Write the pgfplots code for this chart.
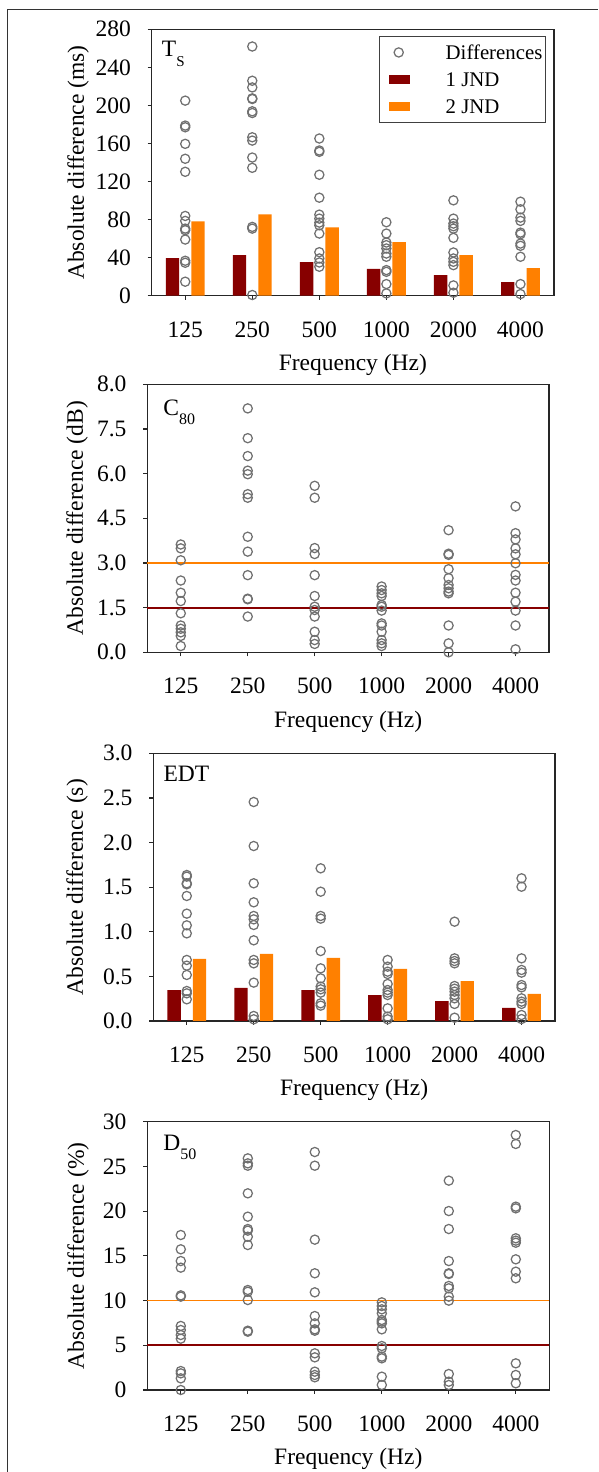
\documentclass[border=0pt]{standalone}
\usepackage{fontspec}
\setmainfont{Liberation Serif}
\usepackage{pgfplots}
\pgfplotsset{compat=1.18}
\definecolor{jndone}{RGB}{135,0,0}
\definecolor{jndtwo}{RGB}{255,128,0}
\definecolor{ptgray}{RGB}{112,112,112}
\pgfplotsset{
  panel/.style={
    scale only axis, anchor=south west,
    xmin=-0.5, xmax=5.5,
    xtick={0,1,2,3,4,5},
    xticklabels={125,250,500,1000,2000,4000},
    tick align=outside, xtick pos=bottom, ytick pos=left,
    major tick length=4pt,
    axis line style={line width=1.2pt, black!85},
    every tick/.style={line width=1.2pt, black!85},
    clip=false,
    xlabel={Frequency (Hz)},
    xlabel style={at={(axis description cs:0.5,0)}, anchor=base, yshift=-75pt},
    xticklabel style={anchor=base, yshift=-37.6pt},
    yticklabel style={anchor=east, inner sep=0pt, xshift=-16.7pt},
  },
  pts/.style={only marks, mark=o, mark size=4.6pt, ptgray, mark options={line width=1.25pt}},
}
\begin{document}
\begin{tikzpicture}[font=\fontsize{23.5}{28}\selectfont]
\useasboundingbox (0pt,0pt) rectangle (598pt,1472pt);
\draw[line width=1pt, black!80] (7pt,0pt) -- (7pt,1462.5pt) -- (598pt,1462.5pt);

% ---------------- Panel 1: Ts
\begin{axis}[panel, at={(151.7pt,1176.3pt)}, width=402.3pt, height=266.4pt,
  ymin=0, ymax=280, ytick={0,40,...,280},
  yticklabels={0,40,80,120,160,200,240,280},
  ylabel={Absolute difference (ms)},
  ylabel style={at={(axis description cs:-0.1683,0.5)}, anchor=base},
  legend style={at={(0.980,0.975)}, anchor=north east, draw=black!75, line width=1.2pt,
    fill=white, inner xsep=3pt, inner ysep=9pt, row sep=13.2pt,
    font=\fontsize{20.8}{25}\selectfont,
    nodes={inner sep=0pt, text height=13.8pt, text depth=0pt}, cells={anchor=west}},
]
\addlegendimage{legend image code/.code={\path[draw=none,fill=none] (0pt,-6.9pt) rectangle (63pt,6.9pt); \draw[ptgray, fill=none, line width=1.25pt] (16pt,0pt) circle (4.6pt);}}
\addlegendentry{Differences}
\addlegendimage{legend image code/.code={\path[draw=none,fill=none] (0pt,-6.9pt) rectangle (63pt,6.9pt); \fill[jndone, draw=none] (6pt,-4.7pt) rectangle (27pt,4.7pt);}}
\addlegendentry{1 JND}
\addlegendimage{legend image code/.code={\path[draw=none,fill=none] (0pt,-6.9pt) rectangle (63pt,6.9pt); \fill[jndtwo, draw=none] (6pt,-4.7pt) rectangle (27pt,4.7pt);}}
\addlegendentry{2 JND}
\addplot[ybar, bar width=0.2, fill=jndone, draw=none, forget plot] table[row sep=\\] {
x y \\ -0.19 39.5 \\ 0.81 42.6 \\ 1.81 35.3 \\ 2.81 28.3 \\ 3.81 21.6 \\ 4.81 14.3 \\
};
\addplot[ybar, bar width=0.2, fill=jndtwo, draw=none, forget plot] table[row sep=\\] {
x y \\ 0.19 78.2 \\ 1.19 85.5 \\ 2.19 71.9 \\ 3.19 56.2 \\ 4.19 42.6 \\ 5.19 29 \\
};
\addplot[pts, forget plot] table[row sep=\\] {
x y \\
0 205 \\ 0 178.8 \\ 0 177 \\ 0 159.6 \\ 0 143.9 \\ 0 130.2 \\ 0 83.8 \\ 0 78.6 \\ 0 70.5 \\ 0 68.8 \\ 0 59 \\ 0 36.7 \\ 0 34.6 \\ 0 14.7 \\
1 261.9 \\ 1 225.9 \\ 1 218.9 \\ 1 207.4 \\ 1 206.7 \\ 1 193.8 \\ 1 192 \\ 1 166.5 \\ 1 163 \\ 1 145.2 \\ 1 134.4 \\ 1 72.3 \\ 1 70.5 \\ 1 0.7 \\
2 165.2 \\ 2 152.6 \\ 2 151.2 \\ 2 127.1 \\ 2 103 \\ 2 85.2 \\ 2 81 \\ 2 76.8 \\ 2 74 \\ 2 65.3 \\ 2 45.7 \\ 2 39.1 \\ 2 34.9 \\ 2 30.4 \\
3 77.2 \\ 3 65.3 \\ 3 55.9 \\ 3 53.1 \\ 3 49.6 \\ 3 44.3 \\ 3 40.9 \\ 3 26.9 \\ 3 25.1 \\ 3 12.2 \\ 3 2.4 \\
4 100.2 \\ 4 81 \\ 4 75.8 \\ 4 73 \\ 4 70.5 \\ 4 60.8 \\ 4 45.4 \\ 4 39.1 \\ 4 35.6 \\ 4 32.1 \\ 4 10.8 \\ 4 3.1 \\
5 98.8 \\ 5 90.8 \\ 5 82.1 \\ 5 78.6 \\ 5 66.3 \\ 5 64.6 \\ 5 54.8 \\ 5 52.4 \\ 5 40.9 \\ 5 12.2 \\ 5 1.7 \\
};
\node[anchor=base west, inner sep=0pt] at (rel axis cs:0.0249,0.897) {T\raisebox{-10pt}{\fontsize{15}{15}\selectfont S}};
\end{axis}

% ---------------- Panel 2: C80
\begin{axis}[panel, at={(147.3pt,819.7pt)}, width=401.7pt, height=268pt,
  ymin=0, ymax=9, ytick={0,1.5,3,4.5,6,7.5,9},
  yticklabels={0.0,1.5,3.0,4.5,6.0,7.5,8.0},
  ylabel={Absolute difference (dB)},
  ylabel style={at={(axis description cs:-0.1601,0.5)}, anchor=base},
]
\addplot[color=jndtwo, line width=1.8pt] coordinates {(-0.5,3) (5.5,3)};
\addplot[color=jndone, line width=1.8pt] coordinates {(-0.5,1.5) (5.5,1.5)};
\addplot[pts] table[row sep=\\] {
x y \\
0 3.62 \\ 0 3.49 \\ 0 3.09 \\ 0 2.41 \\ 0 2.00 \\ 0 1.72 \\ 0 1.31 \\ 0 0.90 \\ 0 0.79 \\ 0 0.67 \\ 0 0.55 \\ 0 0.21 \\
1 8.19 \\ 1 7.19 \\ 1 6.59 \\ 1 6.10 \\ 1 5.98 \\ 1 5.31 \\ 1 5.19 \\ 1 3.88 \\ 1 3.38 \\ 1 2.59 \\ 1 1.80 \\ 1 1.78 \\ 1 1.20 \\
2 5.59 \\ 2 5.19 \\ 2 3.50 \\ 2 3.30 \\ 2 2.59 \\ 2 1.89 \\ 2 1.53 \\ 2 1.42 \\ 2 1.20 \\ 2 0.69 \\ 2 0.41 \\ 2 0.28 \\
3 2.21 \\ 3 2.09 \\ 3 1.98 \\ 3 1.89 \\ 3 1.59 \\ 3 1.53 \\ 3 1.40 \\ 3 0.97 \\ 3 0.90 \\ 3 0.69 \\ 3 0.41 \\ 3 0.30 \\ 3 0.21 \\
4 4.10 \\ 4 3.31 \\ 4 3.27 \\ 4 2.79 \\ 4 2.49 \\ 4 2.26 \\ 4 2.15 \\ 4 2.04 \\ 4 1.98 \\ 4 0.90 \\ 4 0.30 \\ 4 0.0 \\
5 4.90 \\ 5 4.00 \\ 5 3.79 \\ 5 3.49 \\ 5 3.29 \\ 5 2.99 \\ 5 2.60 \\ 5 2.41 \\ 5 2.00 \\ 5 1.70 \\ 5 1.40 \\ 5 0.90 \\ 5 0.10 \\
};
\node[anchor=base west, inner sep=0pt] at (rel axis cs:0.0398,0.8817) {C\raisebox{-8.3pt}{\fontsize{16}{16}\selectfont 80}};
\end{axis}

% ---------------- Panel 3: EDT
\begin{axis}[panel, at={(153.3pt,451pt)}, width=401.7pt, height=267.7pt,
  ymin=0, ymax=3, ytick={0,0.5,...,3},
  yticklabels={0.0,0.5,1.0,1.5,2.0,2.5,3.0},
  ylabel={Absolute difference (s)},
  ylabel style={at={(axis description cs:-0.1751,0.5)}, anchor=base},
]
\addplot[ybar, bar width=0.2, fill=jndone, draw=none] table[row sep=\\] {
x y \\ -0.19 0.347 \\ 0.81 0.370 \\ 1.81 0.347 \\ 2.81 0.291 \\ 3.81 0.224 \\ 4.81 0.146 \\
};
\addplot[ybar, bar width=0.2, fill=jndtwo, draw=none] table[row sep=\\] {
x y \\ 0.19 0.695 \\ 1.19 0.751 \\ 2.19 0.706 \\ 3.19 0.583 \\ 4.19 0.448 \\ 5.19 0.303 \\
};
\addplot[pts] table[row sep=\\] {
x y \\
0 1.636 \\ 0 1.618 \\ 0 1.543 \\ 0 1.532 \\ 0 1.401 \\ 0 1.203 \\ 0 1.072 \\ 0 0.982 \\ 0 0.684 \\ 0 0.620 \\ 0 0.516 \\ 0 0.336 \\ 0 0.310 \\ 0 0.243 \\
1 2.454 \\ 1 1.961 \\ 1 1.543 \\ 1 1.330 \\ 1 1.177 \\ 1 1.139 \\ 1 1.076 \\ 1 0.904 \\ 1 0.684 \\ 1 0.646 \\ 1 0.430 \\ 1 0.056 \\ 1 0.019 \\
2 1.711 \\ 2 1.449 \\ 2 1.177 \\ 2 1.147 \\ 2 0.784 \\ 2 0.590 \\ 2 0.478 \\ 2 0.385 \\ 2 0.355 \\ 2 0.318 \\ 2 0.198 \\ 2 0.172 \\
3 0.684 \\ 3 0.609 \\ 3 0.553 \\ 3 0.527 \\ 3 0.415 \\ 3 0.347 \\ 3 0.318 \\ 3 0.291 \\ 3 0.142 \\ 3 0.049 \\ 3 0.019 \\
4 1.113 \\ 4 0.702 \\ 4 0.672 \\ 4 0.646 \\ 4 0.392 \\ 4 0.362 \\ 4 0.329 \\ 4 0.291 \\ 4 0.254 \\ 4 0.191 \\ 4 0.037 \\
5 1.599 \\ 5 1.505 \\ 5 0.702 \\ 5 0.572 \\ 5 0.542 \\ 5 0.403 \\ 5 0.377 \\ 5 0.254 \\ 5 0.217 \\ 5 0.191 \\ 5 0.067 \\ 5 0.022 \\
};
\node[anchor=base west, inner sep=0pt] at (rel axis cs:0.025,0.894) {EDT};
\end{axis}

% ---------------- Panel 4: D50
\begin{axis}[panel, at={(147.3pt,82pt)}, width=402pt, height=268.3pt,
  ymin=0, ymax=30, ytick={0,5,...,30},
  yticklabels={0,5,10,15,20,25,30},
  ylabel={Absolute difference (\%)},
  ylabel style={at={(axis description cs:-0.1575,0.5)}, anchor=base},
]
\addplot[color=jndtwo, line width=1.8pt] coordinates {(-0.5,10) (5.5,10)};
\addplot[color=jndone, line width=1.8pt] coordinates {(-0.5,5) (5.5,5)};
\addplot[pts] table[row sep=\\] {
x y \\
0 17.33 \\ 0 15.73 \\ 0 14.42 \\ 0 13.68 \\ 0 10.58 \\ 0 10.44 \\ 0 7.16 \\ 0 6.71 \\ 0 6.15 \\ 0 5.74 \\ 0 2.12 \\ 0 1.86 \\ 0 1.30 \\ 0 0.0 \\
1 25.90 \\ 1 25.34 \\ 1 25.08 \\ 1 21.99 \\ 1 19.38 \\ 1 18.00 \\ 1 17.82 \\ 1 17.14 \\ 1 16.21 \\ 1 11.18 \\ 1 10.99 \\ 1 10.06 \\ 1 6.63 \\ 1 6.52 \\
2 26.61 \\ 2 25.08 \\ 2 16.81 \\ 2 13.05 \\ 2 10.92 \\ 2 8.27 \\ 2 7.45 \\ 2 6.78 \\ 2 6.63 \\ 2 4.10 \\ 2 3.65 \\ 2 2.05 \\ 2 1.68 \\ 2 1.42 \\
3 9.80 \\ 3 9.39 \\ 3 9.02 \\ 3 8.57 \\ 3 7.83 \\ 3 7.64 \\ 3 7.45 \\ 3 6.78 \\ 3 4.92 \\ 3 4.66 \\ 3 3.73 \\ 3 3.54 \\ 3 1.49 \\ 3 0.56 \\
4 23.41 \\ 4 20.01 \\ 4 18.00 \\ 4 14.42 \\ 4 13.05 \\ 4 12.97 \\ 4 11.63 \\ 4 11.37 \\ 4 10.44 \\ 4 9.99 \\ 4 1.79 \\ 4 0.93 \\ 4 0.56 \\
5 28.51 \\ 5 27.51 \\ 5 20.50 \\ 5 20.31 \\ 5 16.96 \\ 5 16.70 \\ 5 16.47 \\ 5 14.61 \\ 5 13.23 \\ 5 12.49 \\ 5 2.98 \\ 5 1.68 \\ 5 0.75 \\
};
\node[anchor=base west, inner sep=0pt] at (rel axis cs:0.0398,0.891) {D\raisebox{-8.3pt}{\fontsize{16}{16}\selectfont 50}};
\end{axis}
\end{tikzpicture}
\end{document}
